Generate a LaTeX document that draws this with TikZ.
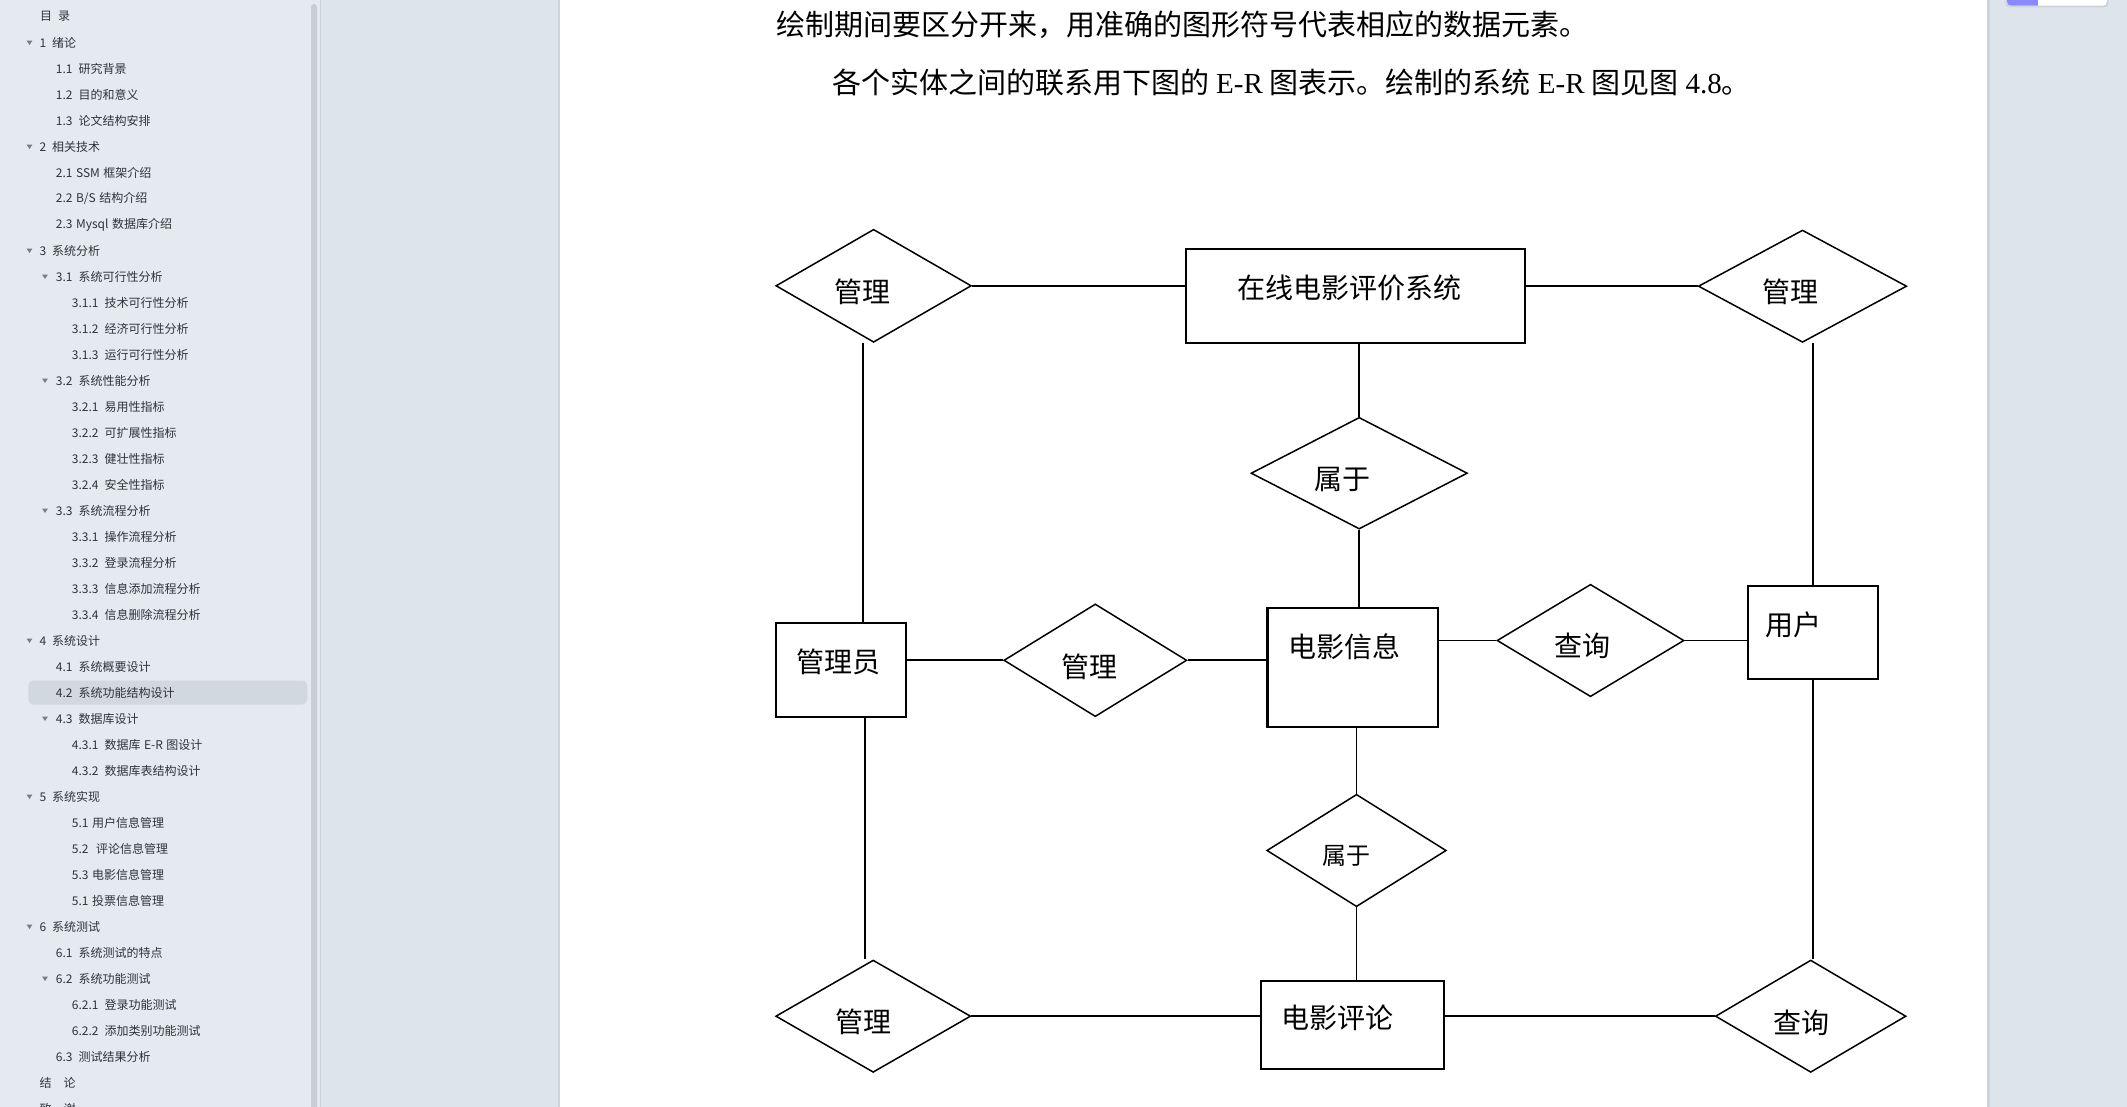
\documentclass[tikz,border=0pt]{standalone}
\usepackage{fontspec}
\setmainfont{Liberation Serif}
\newfontfamily\cjk{Noto Sans CJK SC}
\usetikzlibrary{shapes.geometric,calc}
\definecolor{viewbg}{HTML}{DEE4EB}
\definecolor{sidebg}{HTML}{E4EAF0}
\definecolor{hilite}{HTML}{D1D8DF}
\definecolor{tocfg}{HTML}{303336}
\definecolor{trifg}{HTML}{7A7D80}
\definecolor{scrollc}{HTML}{C8CED4}
\definecolor{edgec}{HTML}{CDD3DA}
\definecolor{tabblue}{HTML}{8A8AFF}
\newcommand\tgap{\hspace{6pt}}
\newcommand\tsgap{\hspace{3.5pt}}
\newcommand\bgap{\hspace{7pt}}
\begin{document}
\begin{tikzpicture}[x=1pt,y=-1pt,
  toc/.style={anchor=west,inner sep=0pt,font=\cjk\fontsize{12}{14}\selectfont,text=tocfg},
  body/.style={anchor=west,inner sep=0pt,font=\fontsize{29}{32}\selectfont},
  ent/.style={draw,line width=2.2pt,rectangle,inner sep=0pt},
  rel/.style={draw,line width=1.5pt,diamond,inner sep=0pt,aspect=1},
  lbl/.style={font=\cjk\fontsize{28}{30}\selectfont,inner sep=0pt},
  conn/.style={line width=1.7pt},
  tri/.style={fill=trifg}]
\useasboundingbox (0,0) rectangle (2127,1107);
% backgrounds
\fill[viewbg] (0,0) rectangle (2127,1107);
\fill[sidebg] (0,0) rectangle (320,1107);
\draw[edgec,line width=1pt] (320.5,0) -- (320.5,1107);
\fill[scrollc,rounded corners=3pt] (311,4) rectangle (317,1115);
\fill[edgec] (557.5,0) rectangle (560,1107);
\fill[edgec] (1987,0) rectangle (1990,1107);
\fill[white] (559.5,0) rectangle (1987,1107);
% top-right tab
\fill[edgec,rounded corners=4pt] (2005.5,-10) rectangle (2108.5,7.5);
\begin{scope}
\clip[rounded corners=4pt] (2007,-10) rectangle (2107,5.7);
\fill[white] (2007,-10) rectangle (2107,5.7);
\fill[tabblue] (2007,-10) rectangle (2038,5.7);
\end{scope}
% highlight
\fill[hilite,rounded corners=5pt] (28.3,680.5) rectangle (307.3,704.5);
% TOC triangles
\foreach \tx/\ty in {29.5/42.7,29.5/146.7,29.5/250.7,45/276.7,45/380.7,45/510.7,29.5/640.7,45/718.7,29.5/796.7,29.5/926.7,45/978.7}
  \fill[tri] (\tx-2.9,\ty-2.1) -- (\tx+2.9,\ty-2.1) -- (\tx,\ty+2.3) -- cycle;
% TOC text
\node[toc] (t0) at (40,16.7) {目\hspace{6pt}录};
\node[toc] (t1) at (39.3,42.7) {1\tgap 绪论};
\node[toc] (t2) at (55.7,68.7) {1.1\tgap 研究背景};
\node[toc] (t3) at (55.7,94.7) {1.2\tgap 目的和意义};
\node[toc] (t4) at (55.7,120.7) {1.3\tgap 论文结构安排};
\node[toc] (t5) at (39.3,146.7) {2\tgap 相关技术};
\node[toc] (t6) at (55.7,172.7) {2.1\tsgap SSM\tsgap 框架介绍};
\node[toc] (t7) at (55.7,198.7) {2.2\tsgap B/S\tsgap 结构介绍};
\node[toc] (t8) at (55.7,224.7) {2.3\tsgap Mysql\tsgap 数据库介绍};
\node[toc] (t9) at (39.3,250.7) {3\tgap 系统分析};
\node[toc] (t10) at (55.7,276.7) {3.1\tgap 系统可行性分析};
\node[toc] (t11) at (71.7,302.7) {3.1.1\tgap 技术可行性分析};
\node[toc] (t12) at (71.7,328.7) {3.1.2\tgap 经济可行性分析};
\node[toc] (t13) at (71.7,354.7) {3.1.3\tgap 运行可行性分析};
\node[toc] (t14) at (55.7,380.7) {3.2\tgap 系统性能分析};
\node[toc] (t15) at (71.7,406.7) {3.2.1\tgap 易用性指标};
\node[toc] (t16) at (71.7,432.7) {3.2.2\tgap 可扩展性指标};
\node[toc] (t17) at (71.7,458.7) {3.2.3\tgap 健壮性指标};
\node[toc] (t18) at (71.7,484.7) {3.2.4\tgap 安全性指标};
\node[toc] (t19) at (55.7,510.7) {3.3\tgap 系统流程分析};
\node[toc] (t20) at (71.7,536.7) {3.3.1\tgap 操作流程分析};
\node[toc] (t21) at (71.7,562.7) {3.3.2\tgap 登录流程分析};
\node[toc] (t22) at (71.7,588.7) {3.3.3\tgap 信息添加流程分析};
\node[toc] (t23) at (71.7,614.7) {3.3.4\tgap 信息删除流程分析};
\node[toc] (t24) at (39.3,640.7) {4\tgap 系统设计};
\node[toc] (t25) at (55.7,666.7) {4.1\tgap 系统概要设计};
\node[toc] (t26) at (55.7,692.7) {4.2\tgap 系统功能结构设计};
\node[toc] (t27) at (55.7,718.7) {4.3\tgap 数据库设计};
\node[toc] (t28) at (71.7,744.7) {4.3.1\tgap 数据库\tsgap E-R\tsgap 图设计};
\node[toc] (t29) at (71.7,770.7) {4.3.2\tgap 数据库表结构设计};
\node[toc] (t30) at (39.3,796.7) {5\tgap 系统实现};
\node[toc] (t31) at (71.7,822.7) {5.1\tsgap 用户信息管理};
\node[toc] (t32) at (71.7,848.7) {5.2\hspace{7.5pt}评论信息管理};
\node[toc] (t33) at (71.7,874.7) {5.3\tsgap 电影信息管理};
\node[toc] (t34) at (71.7,900.7) {5.1\tsgap 投票信息管理};
\node[toc] (t35) at (39.3,926.7) {6\tgap 系统测试};
\node[toc] (t36) at (55.7,952.7) {6.1\tgap 系统测试的特点};
\node[toc] (t37) at (55.7,978.7) {6.2\tgap 系统功能测试};
\node[toc] (t38) at (71.7,1004.7) {6.2.1\tgap 登录功能测试};
\node[toc] (t39) at (71.7,1030.7) {6.2.2\tgap 添加类别功能测试};
\node[toc] (t40) at (55.7,1056.7) {6.3\tgap 测试结果分析};
\node[toc] (t41) at (39.3,1082.7) {结　论};
\node[toc] (t42) at (39.3,1108.7) {致　谢};
% page text
\node[body] (p1) at (776,25) {\cjk 绘制期间要区分开来，用准确的图形符号代表相应的数据元素。};
\node[body] (p2) at (832,82) {{\cjk 各个实体之间的联系用下图的}\bgap E-R\bgap{\cjk 图表示。绘制的系统}\bgap E-R\bgap{\cjk 图见图}\bgap 4.8{\cjk 。}};
% entities
\node[ent,minimum width=338.7pt,minimum height=94pt,label={[lbl,xshift=-6.2pt,yshift=7.7pt]center:在线电影评价系统}] (sys) at (1355.7,295.7) {};
\node[ent,minimum width=130pt,minimum height=93pt,label={[lbl,xshift=-20pt,yshift=7pt]center:用户}] (user) at (1813,632.2) {};
\node[ent,minimum width=130pt,minimum height=93.4pt,label={[lbl,xshift=-3pt,yshift=8.3pt]center:管理员}] (admin) at (841,670) {};
\node[ent,minimum width=170.6pt,minimum height=119pt,label={[lbl,xshift=-8pt,yshift=20pt]center:电影信息}] (movie) at (1352.7,667.2) {};
\node[ent,minimum width=183pt,minimum height=88.3pt,label={[lbl,xshift=-15pt,yshift=6.5pt]center:电影评论}] (review) at (1352.5,1024.8) {};
% relationships
\node[rel,minimum width=195.5pt,minimum height=113pt,label={[lbl,xshift=-11pt,yshift=-6pt]center:管理}] (m1) at (873.6,285.8) {};
\node[rel,minimum width=216.4pt,minimum height=111.7pt,label={[lbl,xshift=-17pt,yshift=-6pt]center:属于}] (b1) at (1359.2,473.2) {};
\node[rel,minimum width=208.4pt,minimum height=112.3pt,label={[lbl,xshift=-12.5pt,yshift=-5.5pt]center:管理}] (m2) at (1802.5,286.2) {};
\node[rel,minimum width=187pt,minimum height=112.4pt,label={[lbl,xshift=-8.5pt,yshift=-5.5pt]center:查询}] (q1) at (1590.5,640.5) {};
\node[rel,minimum width=183pt,minimum height=112.7pt,label={[lbl,xshift=-6pt,yshift=-7pt]center:管理}] (m3) at (1095.3,660.3) {};
\node[rel,minimum width=179.5pt,minimum height=112.4pt,label={[lbl,font=\cjk\fontsize{24}{26}\selectfont,xshift=-10.5pt,yshift=-5.5pt]center:属于}] (b2) at (1356.5,850.5) {};
\node[rel,minimum width=190.6pt,minimum height=112.3pt,label={[lbl,xshift=-9pt,yshift=-6.5pt]center:查询}] (q2) at (1810.7,1016.2) {};
\node[rel,minimum width=195pt,minimum height=112.3pt,label={[lbl,xshift=-10pt,yshift=-5.5pt]center:管理}] (m4) at (873.2,1016.2) {};
% connectors
\coordinate (aL) at ([xshift=-10.5pt]m1.south);
\coordinate (bL) at ([xshift=-8pt]m4.north);
\draw[conn] (m1.east) -- (m1.east -| sys.west);
\draw[conn] (m2.west -| sys.east) -- (m2.west);
\draw[conn] (b1.north |- sys.south) -- (b1.north);
\draw[conn] (b1.south) -- (b1.south |- movie.north);
\draw[conn] (aL) -- (aL |- admin.north);
\draw[conn] (bL |- admin.south) -- (bL);
\draw[conn] (m3.west -| admin.east) -- (m3.west);
\draw[conn] (m3.east) -- (m3.east -| movie.west);
\draw[conn] (q1.west -| movie.east) -- (q1.west);
\draw[conn] (q1.east) -- (q1.east -| user.west);
\draw[conn] (user.north |- m2.south) -- (user.north);
\draw[conn] (user.south) -- (user.south |- q2.north);
\draw[conn] (b2.north |- movie.south) -- (b2.north);
\draw[conn] (b2.south) -- (b2.south |- review.north);
\draw[conn] (m4.east) -- (m4.east -| review.west);
\draw[conn] (q2.west -| review.east) -- (q2.west);
\end{tikzpicture}
\end{document}
